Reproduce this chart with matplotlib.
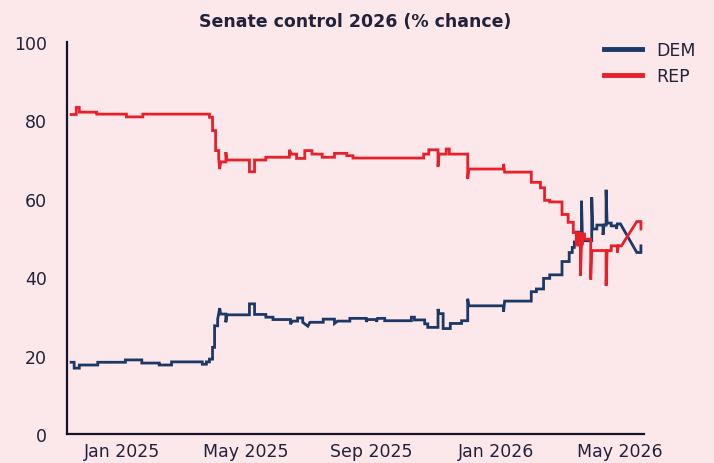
import matplotlib
matplotlib.use("Agg")
import matplotlib.pyplot as plt
import matplotlib.dates as mdates
import pandas as pd

# ---------------- data ----------------
dem_dates = [
    "2024-11-12", "2024-11-15", "2024-11-15", "2024-11-20", "2024-11-20",
    "2024-12-08", "2024-12-08", "2025-01-04", "2025-01-04", "2025-01-20",
    "2025-01-20", "2025-02-06", "2025-02-06", "2025-02-18", "2025-02-18",
    "2025-03-20", "2025-03-20", "2025-03-24", "2025-03-24", "2025-03-27",
    "2025-03-27", "2025-03-30", "2025-03-30", "2025-04-01", "2025-04-01",
    "2025-04-04", "2025-04-04", "2025-04-06", "2025-04-07", "2025-04-12",
    "2025-04-12", "2025-04-13", "2025-05-05", "2025-05-05", "2025-05-10",
    "2025-05-10", "2025-05-21", "2025-05-21", "2025-05-28", "2025-05-28",
    "2025-06-14", "2025-06-14", "2025-06-16", "2025-06-21", "2025-06-21",
    "2025-06-26", "2025-06-26", "2025-07-01", "2025-07-03", "2025-07-16",
    "2025-07-16", "2025-07-27", "2025-07-27", "2025-07-30", "2025-08-11",
    "2025-08-11", "2025-08-27", "2025-08-27", "2025-08-28", "2025-09-06",
    "2025-09-06", "2025-09-07", "2025-09-14", "2025-09-14", "2025-10-10",
    "2025-10-10", "2025-10-13", "2025-10-13", "2025-10-23", "2025-10-23",
    "2025-10-26", "2025-10-26", "2025-11-05", "2025-11-05", "2025-11-06",
    "2025-11-10", "2025-11-10", "2025-11-17", "2025-11-17", "2025-11-28",
    "2025-11-28", "2025-12-04", "2025-12-04", "2025-12-05", "2026-01-08",
    "2026-01-08", "2026-01-09", "2026-02-04", "2026-02-04", "2026-02-09",
    "2026-02-09", "2026-02-16", "2026-02-16", "2026-02-22", "2026-02-22",
    "2026-03-06", "2026-03-06", "2026-03-13", "2026-03-13", "2026-03-16",
    "2026-03-16", "2026-03-18", "2026-03-18", "2026-03-20", "2026-03-20",
    "2026-03-22", "2026-03-22", "2026-03-25", "2026-03-25", "2026-03-26",
    "2026-04-04", "2026-04-04", "2026-04-05", "2026-04-09", "2026-04-09",
    "2026-04-15", "2026-04-15", "2026-04-16", "2026-04-18", "2026-04-18",
    "2026-04-19", "2026-04-23", "2026-04-23", "2026-04-28", "2026-04-28",
    "2026-04-29", "2026-05-02", "2026-05-18", "2026-05-22", "2026-05-22",
]
dem_vals = [
    18.3, 18.3, 16.8, 16.8, 17.6,
    17.6, 18.3, 18.3, 18.9, 18.9,
    18.1, 18.1, 17.6, 17.6, 18.4,
    18.4, 17.8, 17.8, 18.4, 18.4,
    19.1, 19.1, 22.1, 22.1, 27.6,
    27.6, 29.3, 32.1, 30.6, 30.6,
    28.5, 30.4, 30.4, 33.2, 33.2,
    30.5, 30.5, 29.8, 29.8, 29.2,
    29.2, 28.0, 28.8, 28.8, 29.6,
    29.6, 28.5, 27.5, 28.5, 28.5,
    29.3, 29.3, 28.2, 28.8, 28.8,
    29.5, 29.5, 28.6, 29.2, 29.2,
    28.6, 29.5, 29.5, 28.9, 28.9,
    29.8, 29.8, 29.1, 29.1, 28.1,
    28.1, 27.2, 27.2, 31.9, 30.7,
    30.7, 26.9, 26.9, 28.2, 28.2,
    28.9, 28.9, 34.5, 32.7, 32.7,
    31.2, 33.9, 33.9, 36.3, 36.3,
    37.0, 37.0, 39.7, 39.7, 40.6,
    40.6, 44.0, 44.0, 46.3, 46.3,
    47.6, 47.6, 49.0, 49.0, 51.5,
    51.5, 48.5, 48.5, 59.5, 49.3,
    49.3, 60.4, 52.3, 52.3, 53.3,
    53.3, 50.8, 53.3, 53.3, 62.3,
    53.8, 53.8, 53.1, 53.1, 52.3,
    53.6, 53.6, 46.3, 46.3, 48.0,
]

rep_dates = [
    "2024-11-12", "2024-11-17", "2024-11-17", "2024-11-20", "2024-11-20",
    "2024-12-07", "2024-12-07", "2025-01-05", "2025-01-05", "2025-01-21",
    "2025-01-21", "2025-03-27", "2025-03-27", "2025-03-30", "2025-03-30",
    "2025-04-02", "2025-04-02", "2025-04-05", "2025-04-05", "2025-04-06",
    "2025-04-07", "2025-04-12", "2025-04-12", "2025-04-13", "2025-05-05",
    "2025-05-05", "2025-05-10", "2025-05-10", "2025-05-21", "2025-05-21",
    "2025-06-13", "2025-06-13", "2025-06-15", "2025-06-20", "2025-06-20",
    "2025-06-28", "2025-06-28", "2025-07-05", "2025-07-05", "2025-07-15",
    "2025-07-15", "2025-07-27", "2025-07-27", "2025-08-08", "2025-08-08",
    "2025-08-14", "2025-08-14", "2025-10-22", "2025-10-22", "2025-10-27",
    "2025-10-27", "2025-11-05", "2025-11-05", "2025-11-06", "2025-11-13",
    "2025-11-13", "2025-11-16", "2025-11-16", "2025-12-04", "2025-12-04",
    "2025-12-05", "2026-01-08", "2026-01-08", "2026-01-09", "2026-02-04",
    "2026-02-04", "2026-02-13", "2026-02-13", "2026-02-17", "2026-02-17",
    "2026-02-22", "2026-02-22", "2026-03-06", "2026-03-06", "2026-03-12",
    "2026-03-12", "2026-03-17", "2026-03-17", "2026-03-20", "2026-03-20",
    "2026-03-22", "2026-03-22", "2026-03-24", "2026-03-24", "2026-03-25",
    "2026-03-26", "2026-03-26", "2026-03-28", "2026-03-28", "2026-04-03",
    "2026-04-03", "2026-04-04", "2026-04-18", "2026-04-18", "2026-04-19",
    "2026-04-23", "2026-04-23", "2026-04-29", "2026-04-29", "2026-04-30",
    "2026-05-03", "2026-05-18", "2026-05-22", "2026-05-22",
]
rep_vals = [
    81.5, 81.5, 83.3, 83.3, 82.1,
    82.1, 81.6, 81.6, 80.9, 80.9,
    81.6, 81.6, 80.8, 80.8, 77.4,
    77.4, 72.3, 72.3, 70.2, 67.6,
    69.4, 69.4, 71.9, 69.9, 69.9,
    66.9, 66.9, 69.9, 69.9, 70.6,
    70.6, 72.5, 71.4, 71.4, 70.3,
    70.3, 72.3, 72.3, 71.4, 71.4,
    70.6, 70.6, 71.6, 71.6, 71.0,
    71.0, 70.4, 70.4, 71.4, 71.4,
    72.5, 72.5, 68.2, 71.4, 71.4,
    72.7, 72.7, 71.4, 71.4, 65.1,
    67.6, 67.6, 68.9, 66.8, 66.8,
    64.2, 64.2, 62.8, 62.8, 59.6,
    59.6, 59.2, 59.2, 56.0, 56.0,
    54.0, 54.0, 51.4, 51.4, 48.2,
    48.2, 51.2, 51.2, 40.4, 48.5,
    48.5, 51.0, 51.0, 49.7, 49.7,
    39.4, 46.8, 46.8, 37.8, 46.8,
    46.8, 48.0, 48.0, 46.3, 48.0,
    48.0, 54.2, 54.2, 52.3,
]

series_names = ["DEM", "REP"]
title_text = "Senate control 2026 (% chance)"
y_ticks = [0, 20, 40, 60, 80, 100]
x_tick_dates = ["2025-01-01", "2025-05-01", "2025-09-01", "2026-01-01", "2026-05-01"]
x_tick_labels = ["Jan 2025", "May 2025", "Sep 2025", "Jan 2026", "May 2026"]

# ---------------- styling ----------------
BG = "#fce7ea"
DEM_C = "#1c3866"
REP_C = "#e8202a"
TXT = "#22223a"
AX_C = "#14142b"

plt.rcParams["font.family"] = ["DejaVu Sans"]

fig = plt.figure(figsize=(7.14, 4.64), dpi=100, facecolor=BG)
ax = fig.add_axes([67 / 714, 29 / 464, (644 - 67) / 714, (435 - 43) / 464])
ax.set_facecolor(BG)

ax.plot(pd.to_datetime(dem_dates), dem_vals, color=DEM_C, lw=2.0,
        label=series_names[0], solid_joinstyle="miter", zorder=3)
ax.plot(pd.to_datetime(rep_dates), rep_vals, color=REP_C, lw=2.0,
        label=series_names[1], solid_joinstyle="miter", zorder=4)

ax.set_ylim(0, 100)
ax.set_xlim(pd.Timestamp("2024-11-08"), pd.Timestamp("2026-05-25"))
ax.set_yticks(y_ticks)
ax.set_xticks(pd.to_datetime(x_tick_dates))
ax.set_xticklabels(x_tick_labels)

for s in ["top", "right"]:
    ax.spines[s].set_visible(False)
for s in ["left", "bottom"]:
    ax.spines[s].set_color(AX_C)
    ax.spines[s].set_linewidth(1.6)

ax.tick_params(axis="y", length=0, pad=14.5, labelsize=12.5, labelcolor=TXT)
ax.tick_params(axis="x", length=0, pad=6, labelsize=12.5, labelcolor=TXT)

fig.text(355.5 / 714, 1 - 22 / 464, title_text, ha="center", va="center",
         fontsize=12.5, fontweight="bold", color=TXT)

leg = ax.legend(loc="upper left", bbox_to_anchor=(604 / 714, 1 - 42 / 464),
                bbox_transform=fig.transFigure, frameon=False,
                fontsize=12.5, handlelength=2.2, handletextpad=0.8,
                labelspacing=0.45, borderpad=0, borderaxespad=0)
for t in leg.get_texts():
    t.set_color(TXT)
for h in leg.get_lines():
    h.set_linewidth(3.5)

fig.savefig("out.png", dpi=100, facecolor=BG)
